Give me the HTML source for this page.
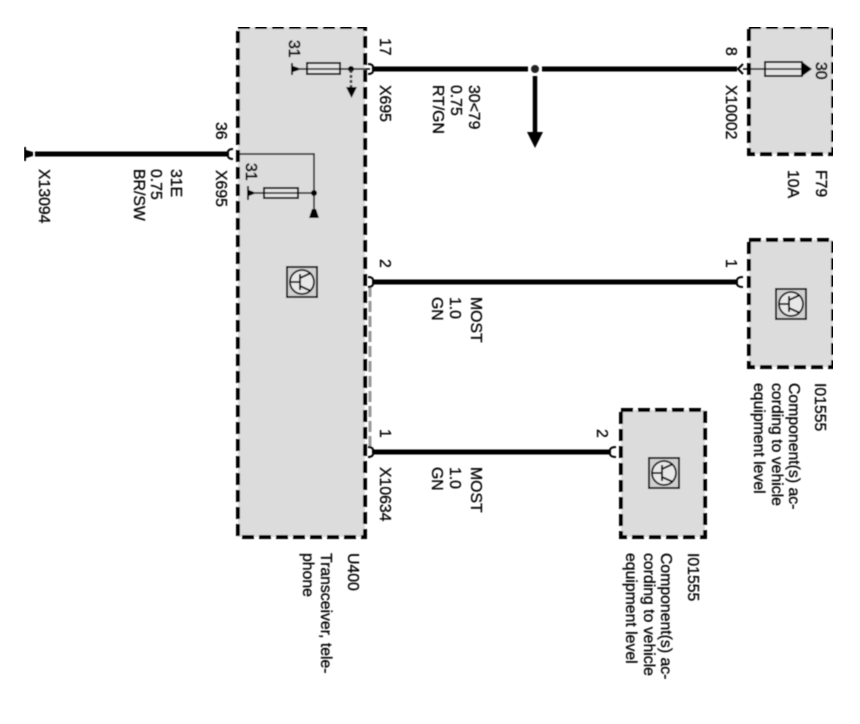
<!DOCTYPE html>
<html><head><meta charset="utf-8"><style>
html,body{margin:0;padding:0;background:#fff}
svg{display:block}
text{font-family:"Liberation Sans",sans-serif;font-size:15.8px;fill:#000;stroke:#000;stroke-width:.3}
text.d{stroke-width:.7}
.b{fill:#dcdcdc;stroke:#000;stroke-width:4;stroke-dasharray:12 5}
.w{stroke:#000;stroke-width:5;fill:none}
.t{stroke:#000;stroke-width:1.5;fill:none}
.c{stroke:#000;stroke-width:2;fill:none}
.f{fill:#e4e4e4;stroke:#000;stroke-width:2}
</style></head><body>
<svg xmlns="http://www.w3.org/2000/svg" width="860" height="724" viewBox="0 0 860 724">
<defs>
<filter id="s" x="0" y="0" width="100%" height="100%"><feGaussianBlur stdDeviation="0.4"/></filter>
<g id="q">
<rect x="1" y="1" width="30" height="30" fill="#d0d0d0" stroke="#000" stroke-width="2"/>
<circle cx="16" cy="16" r="12" fill="#e8e8e8" stroke="#000" stroke-width="1.8"/>
<path d="M4 16H14M14 8V24M14 12L25 7M14 20L25 25" stroke="#000" stroke-width="1.8" fill="none"/>
</g>
</defs>
<g filter="url(#s)">
<rect class="b" x="238" y="27" width="127" height="510"/>
<rect class="b" x="749" y="27" width="84" height="127"/>
<rect class="b" x="749" y="240" width="84" height="127"/>
<rect class="b" x="621" y="410" width="84" height="127"/>

<!-- wires -->
<path class="w" d="M374 69H528M542 69H737"/>
<path class="w" d="M374 282H737"/>
<path class="w" d="M374 452H610"/>
<path class="w" d="M35 154H228"/>
<path d="M370 286V448" stroke="#999" stroke-width="3" stroke-dasharray="11 4" fill="none"/>

<!-- junction and arrow -->
<circle cx="535" cy="69" r="4" fill="#222"/>
<path d="M535 76V134" stroke="#000" stroke-width="4.5"/>
<path d="M527 132H543L535 148Z" fill="#000"/>

<!-- connector arcs -->
<path class="c" d="M368 64Q374 64 373 69Q374 74 368 74"/>
<path class="c" d="M368 277Q374 277 373 282Q374 287 368 287"/>
<path class="c" d="M368 447Q374 447 373 452Q374 457 368 457"/>
<path class="c" d="M233 149Q227 149 228 154Q227 159 233 159"/>
<path class="c" d="M743 64L738 69L743 74"/>
<path class="c" d="M743 277Q736 277 737 282Q736 287 743 287"/>
<path class="c" d="M616 447Q609 447 610 452Q609 457 616 457"/>

<!-- X13094 end -->
<path d="M24 147V161H26V158L33 156V152L26 150V147Z" fill="#000"/>

<!-- F79 fuse -->
<path class="t" d="M743 69H802"/>
<rect class="f" x="765" y="62" width="37" height="14"/>
<path class="t" d="M765 69H802"/>
<path d="M801 61L812 69L801 77Z" fill="#000"/>

<!-- U400 top fuse -->
<path class="t" d="M292 69H370"/>
<path d="M291 63H293V66L299 68V70L293 72V75H291Z" fill="#000"/>
<rect class="f" x="307" y="63" width="33" height="11"/>
<path class="t" d="M307 69H340"/>
<circle cx="351" cy="69" r="3" fill="#000"/>
<path d="M351 70V88" stroke="#333" stroke-width="2.500" stroke-dasharray="3 2"/>
<path d="M346 87H357L351.500 98Z" fill="#000"/>

<!-- U400 lower fuse -->
<path class="t" d="M237 154H314V210"/>
<path class="t" d="M249 193H314"/>
<path d="M247 186H249V190L254 192V194L249 196V200H247Z" fill="#000"/>
<rect class="f" x="264" y="188" width="34" height="10"/>
<path class="t" d="M264 193H298"/>
<circle cx="314" cy="193" r="3" fill="#000"/>
<path d="M309 218H319L316 209H312Z" fill="#000"/>

<!-- transistor symbols -->
<use href="#q" x="286" y="266"/>
<use href="#q" x="775" y="288"/>
<use href="#q" x="648" y="457"/>

<!-- labels -->
<text transform="translate(380 38) rotate(90)">17</text>
<text class="d" transform="translate(289 40) rotate(90)">31</text>
<text transform="translate(380 85) rotate(90)">X695</text>
<text transform="translate(469 85) rotate(90)">30&lt;79</text>
<text transform="translate(451 85) rotate(90)">0.75</text>
<text transform="translate(433 85) rotate(90)">RT/GN</text>
<text transform="translate(726 47) rotate(90)">8</text>
<text transform="translate(726 85) rotate(90)">X10002</text>
<text class="d" transform="translate(816 62) rotate(90)">30</text>
<text transform="translate(816 170) rotate(90)">F79</text>
<text transform="translate(788 170) rotate(90)">10A</text>
<text transform="translate(216 122) rotate(90)">36</text>
<text transform="translate(216 170) rotate(90)">X695</text>
<text class="d" transform="translate(246 163) rotate(90)">31</text>
<text transform="translate(39 169) rotate(90)">X13094</text>
<text transform="translate(171 169) rotate(90)">31E</text>
<text transform="translate(151 169) rotate(90)">0.75</text>
<text transform="translate(134 169) rotate(90)">BR/SW</text>
<text transform="translate(380 259) rotate(90)">2</text>
<text transform="translate(471 297) rotate(90)">MOST</text>
<text transform="translate(450 297) rotate(90)">1.0</text>
<text transform="translate(432 297) rotate(90)">GN</text>
<text transform="translate(380 429) rotate(90)">1</text>
<text transform="translate(380 467) rotate(90)">X10634</text>
<text transform="translate(471 467) rotate(90)">MOST</text>
<text transform="translate(450 467) rotate(90)">1.0</text>
<text transform="translate(432 467) rotate(90)">GN</text>
<text transform="translate(726 259) rotate(90)">1</text>
<text transform="translate(597 429) rotate(90)">2</text>
<text transform="translate(815 383) rotate(90)">I01555</text>
<text transform="translate(789 383) rotate(90)">Component(s) ac-</text>
<text transform="translate(772 383) rotate(90)">cording to vehicle</text>
<text transform="translate(754 383) rotate(90)">equipment level</text>
<text transform="translate(688 553) rotate(90)">I01555</text>
<text transform="translate(661 553) rotate(90)">Component(s) ac-</text>
<text transform="translate(644 553) rotate(90)">cording to vehicle</text>
<text transform="translate(626 553) rotate(90)">equipment level</text>
<text transform="translate(348 553) rotate(90)">U400</text>
<text transform="translate(321 553) rotate(90)">Transceiver, tele-</text>
<text transform="translate(303 553) rotate(90)">phone</text>
</g>
</svg>
</body></html>
